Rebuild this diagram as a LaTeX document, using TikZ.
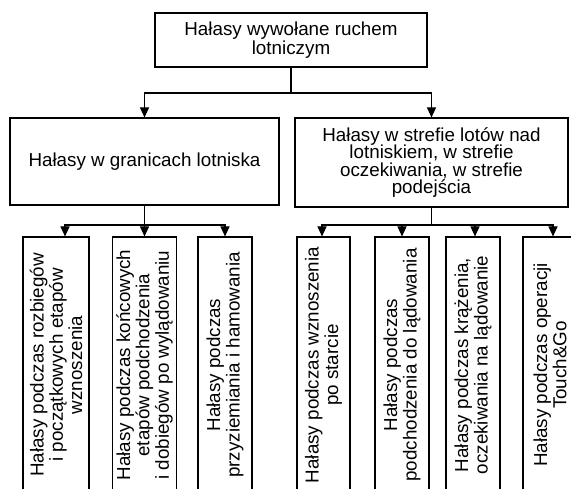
\documentclass[tikz,border=0pt]{standalone}
\usepackage{fontspec}
\setmainfont{Liberation Sans}
\usetikzlibrary{arrows.meta}
\tikzset{
  box/.style={draw, line width=1.1pt, rectangle, align=center, inner sep=2pt,
    font=\fontsize{18.8}{18.5}\selectfont},
  sub/.style={box, rotate=90, minimum width=256pt,
    font=\fontsize{18.8}{19.3}\selectfont},
  link/.style={line width=1.1pt},
  arr/.style={line width=1.1pt, -{Triangle[width=9pt,length=10pt]}}
}
\begin{document}
\begin{tikzpicture}[x=1pt,y=-1pt]
\useasboundingbox (0,0) rectangle (571,489);
\fill[white] (0,0) rectangle (571,489);
\clip (0,0) rectangle (571,489);
% top
\node[box, minimum width=272pt, minimum height=54pt] (t) at (291,40)
  {Hałasy wywołane ruchem\\lotniczym};
\node[box, minimum width=269pt, minimum height=87pt] (g) at (144.5,161.5)
  {Hałasy w granicach lotniska};
\node[box, minimum width=273pt, minimum height=89pt,
  font=\fontsize{18.8}{17.6}\selectfont] (r) at (431.5,162.5)
  {Hałasy w strefie lotów nad\\lotniskiem, w strefie\\oczekiwania, w strefie\\podejścia};
% bottom row
\node[sub, minimum height=66pt] (b1) at (56,365)
  {Hałasy podczas rozbiegów\\i początkowych etapów\\wznoszenia};
\node[sub, minimum height=64pt] (b2) at (144.5,365)
  {Hałasy podczas końcowych\\etapów podchodzenia\\i dobiegów po wylądowaniu};
\node[sub, minimum height=54pt] (b3) at (225,365)
  {Hałasy podczas\\przyziemiania i hamowania};
\node[sub, minimum height=53pt] (b4) at (323.5,365)
  {Hałasy podczas wznoszenia\\po starcie};
\node[sub, minimum height=54pt] (b5) at (402,365)
  {Hałasy podczas\\podchodzenia do lądowania};
\node[sub, minimum height=54pt] (b6) at (473,365)
  {Hałasy podczas krążenia,\\oczekiwania na lądowanie};
\node[sub, minimum height=54pt] (b7) at (550,365)
  {Hałasy podczas operacji\\Touch\&Go};
% connectors
\coordinate (busT) at (291,93);
\coordinate (busL) at (144.5,225);
\coordinate (busR) at (431.5,225);
\draw[link] (t.south) -- (busT);
\draw[arr] (busT) -| (g.north);
\draw[arr] (busT) -| (r.north);
\draw[link] (g.south) -- (busL);
\draw[arr] (busL) -| ([xshift=9pt]b1.east);
\draw[arr] (busL) -- (b2.east);
\draw[arr] (busL) -| (b3.east);
\draw[link] (r.south) -- (busR);
\draw[arr] (busR) -| ([xshift=-1.5pt]b4.east);
\draw[arr] (busR) -| (b5.east);
\draw[arr] (busR) -| ([xshift=2pt]b6.east);
\draw[arr] (busR) -| ([xshift=3pt]b7.east);
\end{tikzpicture}
\end{document}
